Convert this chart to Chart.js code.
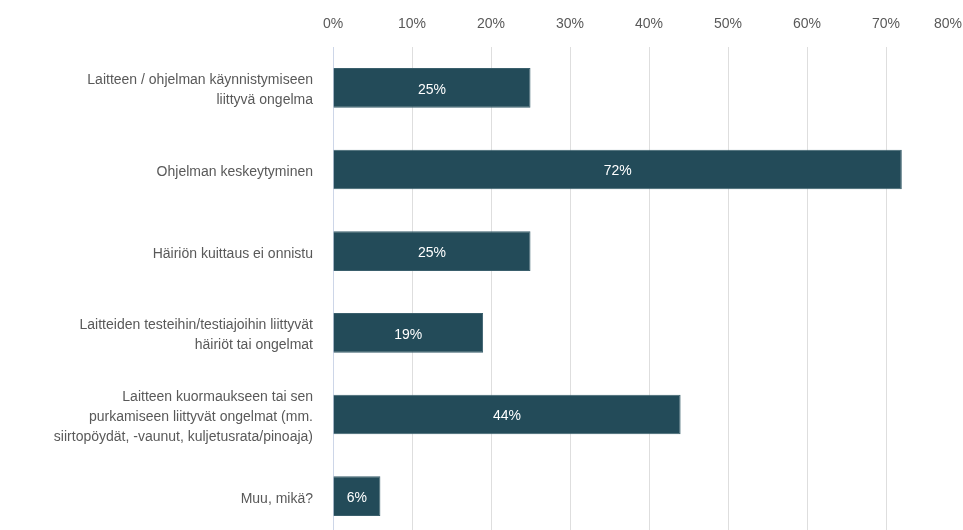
<!DOCTYPE html>
<html><head><meta charset="utf-8">
<script src="https://cdn.jsdelivr.net/npm/chart.js@4/dist/chart.umd.min.js"></script>
<style>html,body{margin:0;padding:0;overflow:hidden;background:#fff;width:963px;height:530px}#wrap{width:979px;height:537px}</style>
</head><body><div id="wrap"><canvas id="c" width="979" height="537"></canvas></div>
<script>
const categories = [
  ["Laitteen / ohjelman käynnistymiseen", "liittyvä ongelma"],
  "Ohjelman keskeytyminen",
  "Häiriön kuittaus ei onnistu",
  ["Laitteiden testeihin/testiajoihin liittyvät", "häiriöt tai ongelmat"],
  ["Laitteen kuormaukseen tai sen", "purkamiseen liittyvät ongelmat (mm.", "siirtopöydät, -vaunut, kuljetusrata/pinoaja)"],
  "Muu, mikä?"
];
const values = [25, 72, 25, 19, 44, 6];
const tickMax = 80;
const tickStep = 10;
const FONT = '"Liberation Sans", Arial, sans-serif';

const barLabels = {
  id: 'barLabels',
  afterDatasetsDraw(chart) {
    const ctx = chart.ctx;
    const meta = chart.getDatasetMeta(0);
    ctx.save();
    ctx.fillStyle = '#ffffff';
    ctx.font = '14px ' + FONT;
    ctx.textAlign = 'center';
    ctx.textBaseline = 'middle';
    meta.data.forEach((bar, i) => {
      const x = (bar.x + bar.base) / 2;
      ctx.fillText(values[i] + '%', x, bar.y + 2);
    });
    // last x tick label, kept inside the visible window like the reference
    const xs = chart.scales.x;
    const lastTick = xs.ticks[xs.ticks.length - 1];
    ctx.fillStyle = '#595959';
    ctx.textAlign = 'right';
    ctx.fillText(lastTick.value + '%', 962, 24);
    ctx.restore();
  }
};

new Chart(document.getElementById('c'), {
  type: 'bar',
  data: {
    labels: categories,
    datasets: [{
      data: values,
      backgroundColor: '#234b59',
      borderColor: '#3a5f6c',
      borderWidth: 1,
      barPercentage: 0.485,
      categoryPercentage: 1
    }]
  },
  options: {
    indexAxis: 'y',
    responsive: false,
    animation: false,
    layout: { padding: 0 },
    plugins: { legend: { display: false }, tooltip: { enabled: false } },
    scales: {
      x: {
        position: 'top',
        min: 0, max: tickMax,
        ticks: {
          stepSize: tickStep,
          color: '#595959',
          padding: 14,
          font: { family: FONT, size: 14 },
          callback: v => (v === tickMax ? '' : v + '%')
        },
        grid: { color: '#dedede', drawTicks: false, lineWidth: 1 },
        border: { display: false },
        afterFit(s) { s.height = 47; s.paddingLeft = 0; s.paddingRight = 14; s.paddingTop = 0; s.paddingBottom = 0; }
      },
      y: {
        ticks: {
          color: '#595959',
          padding: 20,
          labelOffset: 2.5,
          font: { family: FONT, size: 14, lineHeight: 1.45 }
        },
        grid: { display: false, drawTicks: false },
        border: { display: true, color: '#cdd6e8', width: 1 },
        afterFit(s) { s.width = 333; s.paddingTop = 0; s.paddingBottom = 0; s.paddingLeft = 0; s.paddingRight = 0; }
      }
    }
  },
  plugins: [barLabels]
});
</script>
</body></html>
